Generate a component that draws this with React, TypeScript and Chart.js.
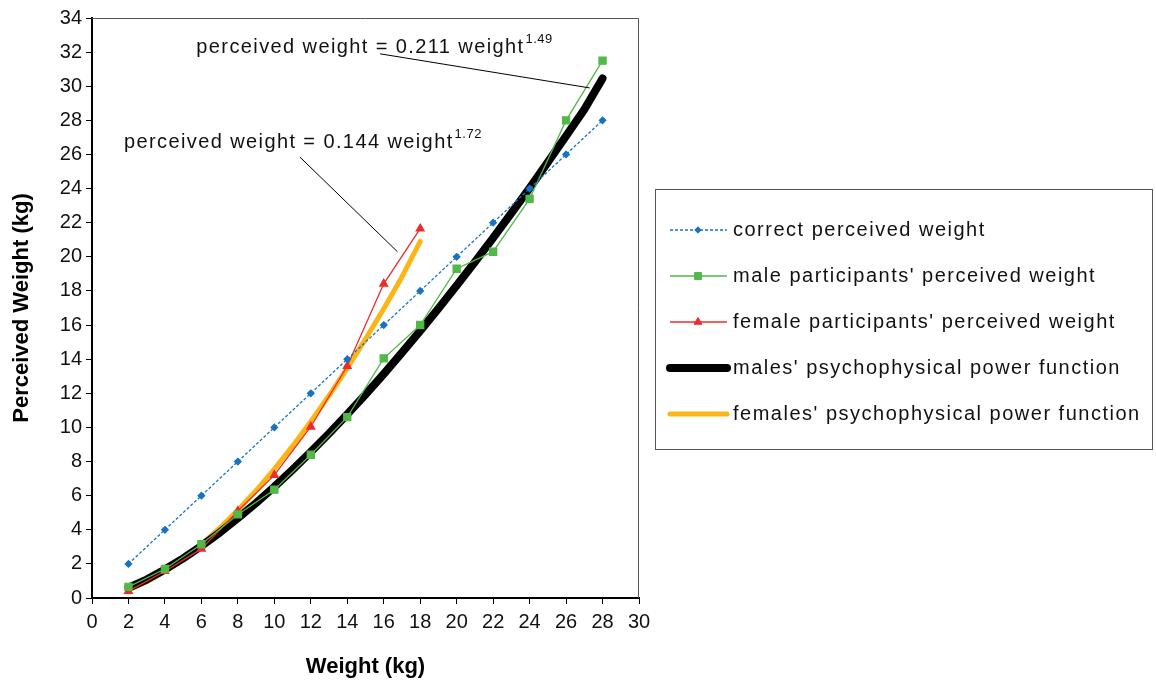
import React, { useEffect, useRef } from "react";
import { Chart, registerables } from "chart.js";
import { drawPoint } from "chart.js/helpers";

Chart.register(...registerables);

// ---- data ----
const weights = [2, 4, 6, 8, 10, 12, 14, 16, 18, 20, 22, 24, 26, 28];
const correctValues = [2, 4, 6, 8, 10, 12, 14, 16, 18, 20, 22, 24, 26, 28];
const maleValues = [0.65, 1.7, 3.15, 4.9, 6.35, 8.4, 10.6, 14.05, 16.0, 19.3, 20.3, 23.4, 28.0, 31.5];
const femaleWeights = [2, 4, 6, 8, 10, 12, 14, 16, 18];
const femaleValues = [0.4, 1.57, 2.88, 5.1, 7.2, 10.04, 13.6, 18.42, 21.65];

const maleFitWeights = [2, 3, 4, 5, 6, 7, 8, 9, 10, 11, 12, 13, 14, 15, 16, 17, 18, 19, 20, 21, 22, 23, 24, 25, 26, 27, 28];
const maleFitValues = [0.6, 1.08, 1.67, 2.32, 3.05, 3.83, 4.68, 5.57, 6.52, 7.52, 8.56, 9.64, 10.77, 11.93, 13.13, 14.38, 15.66, 16.97, 18.32, 19.7, 21.11, 22.56, 24.03, 25.55, 27.08, 28.64, 30.45];
const femaleFitWeights = [2, 3, 4, 5, 6, 7, 8, 9, 10, 11, 12, 13, 14, 15, 16, 17, 18];
const femaleFitValues = [0.47, 0.95, 1.56, 2.29, 3.14, 4.09, 5.15, 6.3, 7.56, 8.9, 10.34, 11.87, 13.48, 15.18, 16.96, 18.82, 20.9];

const xTicks = [0, 30, 2];
const yTicks = [0, 34, 2];

const seriesLabels = [
  "correct perceived weight",
  "male participants' perceived weight",
  "female participants' perceived weight",
  "males' psychophysical power function",
  "females' psychophysical power function",
];

const FONT = "'Liberation Sans', Arial, sans-serif";

const pts = (xs: number[], ys: number[]) => xs.map((x, i) => ({ x, y: ys[i] }));

const annotations = [
  { text: "perceived weight = 0.211 weight", sup: "1.49", at: [5.72, 32.3], from: [15.8, 31.9], to: [27.3, 29.9] },
  { text: "perceived weight = 0.144 weight", sup: "1.72", at: [1.75, 26.7], from: [11.4, 25.85], to: [16.75, 20.3] },
];

const extrasPlugin = {
  id: "extras",
  beforeDatasetsDraw(chart: any) {
    const { ctx, chartArea } = chart;
    ctx.save();
    ctx.strokeStyle = "#555";
    ctx.lineWidth = 1;
    ctx.beginPath();
    ctx.moveTo(chartArea.left, chartArea.top + 0.5);
    ctx.lineTo(chartArea.right - 0.5, chartArea.top + 0.5);
    ctx.lineTo(chartArea.right - 0.5, chartArea.bottom);
    ctx.stroke();
    ctx.restore();
  },
  afterDatasetsDraw(chart: any) {
    const { ctx } = chart;
    const xs = chart.scales.x;
    const ys = chart.scales.y;
    ctx.save();
    for (const a of annotations) {
      ctx.strokeStyle = "#000";
      ctx.lineWidth = 1;
      ctx.beginPath();
      ctx.moveTo(xs.getPixelForValue(a.from[0]), ys.getPixelForValue(a.from[1]));
      ctx.lineTo(xs.getPixelForValue(a.to[0]), ys.getPixelForValue(a.to[1]));
      ctx.stroke();
      const px = xs.getPixelForValue(a.at[0]);
      const py = ys.getPixelForValue(a.at[1]);
      ctx.fillStyle = "#111";
      ctx.textBaseline = "middle";
      ctx.textAlign = "left";
      (ctx as any).letterSpacing = "1.4px";
      ctx.font = `20px ${FONT}`;
      ctx.fillText(a.text, px, py);
      const w = ctx.measureText(a.text).width;
      (ctx as any).letterSpacing = "0.5px";
      ctx.font = `13px ${FONT}`;
      ctx.fillText(a.sup, px + w + 1, py - 8);
      (ctx as any).letterSpacing = "0px";
    }
    ctx.restore();
  },
  afterDraw(chart: any) {
    const { ctx } = chart;
    ctx.save();
    ctx.strokeStyle = "#555";
    ctx.lineWidth = 1;
    ctx.strokeRect(655.5, 189.5, 497, 260);
    chart.data.datasets.forEach((ds: any, i: number) => {
      const y = 230 + i * 46;
      ctx.save();
      ctx.strokeStyle = ds.borderColor;
      ctx.lineWidth = ds.legendWidth || ds.borderWidth;
      ctx.lineCap = ds.borderCapStyle || "butt";
      ctx.setLineDash(ds.borderDash || []);
      ctx.beginPath();
      ctx.moveTo(670, y);
      ctx.lineTo(727, y);
      ctx.stroke();
      ctx.restore();
      if (ds.pointRadius > 0) {
        ctx.save();
        ctx.fillStyle = ds.pointBackgroundColor;
        ctx.strokeStyle = ds.pointBorderColor;
        ctx.lineWidth = 1;
        drawPoint(ctx, { pointStyle: ds.pointStyle, radius: ds.pointRadius, borderWidth: 1, rotation: 0 } as any, 698, y);
        ctx.restore();
      }
      ctx.save();
      ctx.fillStyle = "#111";
      ctx.font = `20px ${FONT}`;
      (ctx as any).letterSpacing = "1.5px";
      ctx.textAlign = "left";
      ctx.textBaseline = "middle";
      ctx.fillText(ds.label, 733, y);
      ctx.restore();
    });
    ctx.restore();
  },
};

export default function App() {
  const ref = useRef<HTMLCanvasElement | null>(null);
  useEffect(() => {
    if (!ref.current) return;
    const chart = new Chart(ref.current, {
      type: "line",
      data: {
        datasets: [
          {
            label: seriesLabels[0],
            data: pts(weights, correctValues),
            borderColor: "#1673C4",
            borderWidth: 1.3,
            borderDash: [3, 2],
            pointStyle: "rectRot",
            pointRadius: 3.2,
            pointBackgroundColor: "#1673C4",
            pointBorderColor: "#1673C4",
          } as any,
          {
            label: seriesLabels[1],
            data: pts(weights, maleValues),
            borderColor: "#52B848",
            borderWidth: 1.3,
            pointStyle: "rect",
            pointRadius: 5,
            pointBackgroundColor: "#52B848",
            pointBorderColor: "#52B848",
          },
          {
            label: seriesLabels[2],
            data: pts(femaleWeights, femaleValues),
            borderColor: "#EE2A2A",
            borderWidth: 1.3,
            pointStyle: "triangle",
            pointRadius: 4.5,
            pointBackgroundColor: "#EE2A2A",
            pointBorderColor: "#EE2A2A",
          },
          {
            label: seriesLabels[3],
            data: pts(maleFitWeights, maleFitValues),
            borderColor: "#000",
            borderWidth: 8,
            borderCapStyle: "round",
            borderJoinStyle: "round",
            pointRadius: 0,
            legendWidth: 8,
          } as any,
          {
            label: seriesLabels[4],
            data: pts(femaleFitWeights, femaleFitValues),
            borderColor: "#FDB515",
            borderWidth: 5,
            borderCapStyle: "round",
            borderJoinStyle: "round",
            pointRadius: 0,
            legendWidth: 5,
          } as any,
        ],
      },
      options: {
        animation: false,
        responsive: false,
        devicePixelRatio: 1,
        layout: { padding: { top: 18, right: 517, left: 0, bottom: 0 } },
        plugins: { legend: { display: false }, tooltip: { enabled: false } },
        scales: {
          x: {
            type: "linear",
            min: xTicks[0],
            max: xTicks[1],
            ticks: { stepSize: xTicks[2], color: "#111", font: { family: FONT, size: 20 }, padding: 6, maxRotation: 0 },
            grid: { drawOnChartArea: false, tickLength: 6, color: "#000", tickWidth: 1 },
            border: { color: "#000", width: 2 },
            title: { display: true, text: "Weight (kg)", color: "#000", font: { family: FONT, size: 22, weight: "bold" }, padding: { top: 0, bottom: 2 } },
            afterFit: (s: any) => { s.height = 84; },
          },
          y: {
            type: "linear",
            min: yTicks[0],
            max: yTicks[1],
            ticks: { stepSize: yTicks[2], color: "#111", font: { family: FONT, size: 20 }, padding: 4 },
            grid: { drawOnChartArea: false, tickLength: 6, color: "#000", tickWidth: 1 },
            border: { color: "#000", width: 2 },
            title: { display: true, text: "Perceived Weight (kg)", color: "#000", font: { family: FONT, size: 22, weight: "bold" }, padding: { top: 9, bottom: 0 } },
            afterFit: (s: any) => { s.width = 92; },
          },
        },
      },
      plugins: [extrasPlugin],
    });
    return () => chart.destroy();
  }, []);
  return (
    <div style={{ position: "fixed", left: 0, top: 0, width: 1156, height: 682, background: "#fff" }}>
      <canvas ref={ref} width={1156} height={682} />
    </div>
  );
}
